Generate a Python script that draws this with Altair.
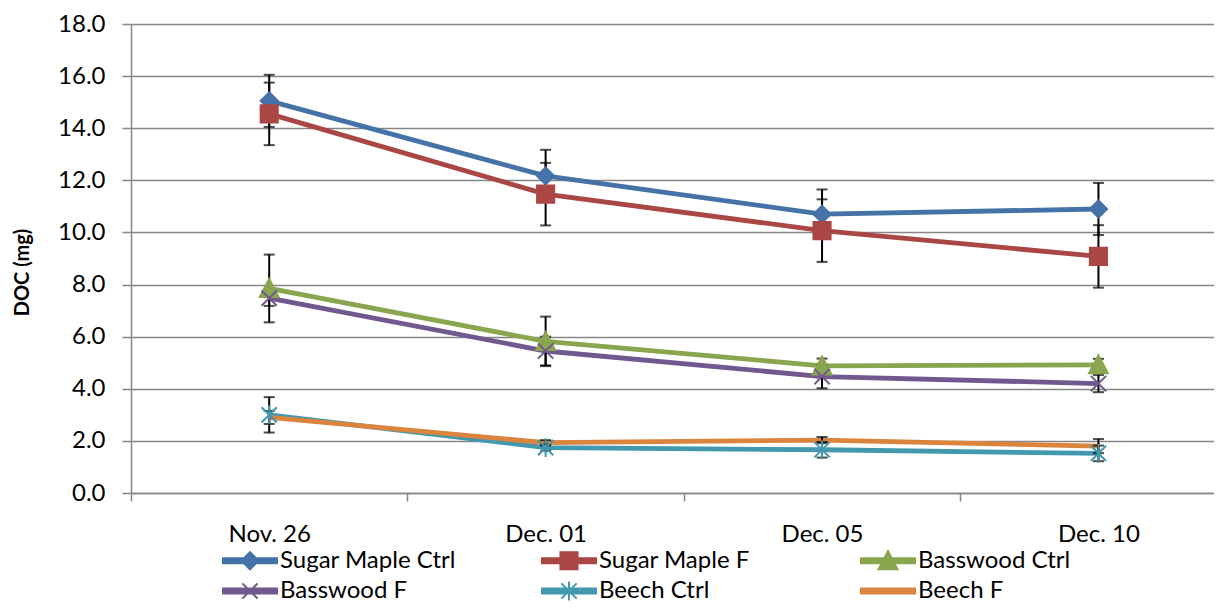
import altair as alt
import pandas as pd

# ---------------- data ----------------
dates = ["Nov. 26", "Dec. 01", "Dec. 05", "Dec. 10"]
series = ["Sugar Maple Ctrl", "Sugar Maple F", "Basswood Ctrl",
          "Basswood F", "Beech Ctrl", "Beech F"]
colors = ["#4572A7", "#AA4643", "#89A54E", "#71588F", "#4198AF", "#DB843D"]

sugar_maple_ctrl = [15.05, 12.17, 10.70, 10.90]
sugar_maple_ctrl_err = [1.00, 1.00, 0.95, 1.00]
sugar_maple_f = [14.55, 11.47, 10.07, 9.08]
sugar_maple_f_err = [1.20, 1.20, 1.20, 1.20]
basswood_ctrl = [7.85, 5.82, 4.88, 4.92]
basswood_ctrl_err = [1.30, 0.95, 0.28, 0.23]
basswood_f = [7.48, 5.45, 4.47, 4.20]
basswood_f_err = [0.30, 0.55, 0.45, 0.33]
beech_ctrl = [3.00, 1.74, 1.66, 1.52]
beech_ctrl_err = [0.68, 0.12, 0.30, 0.30]
beech_f = [2.90, 1.93, 2.03, 1.80]
beech_f_err = [0.25, 0.10, 0.12, 0.27]

y_ticks = [0, 2, 4, 6, 8, 10, 12, 14, 16, 18]

values = [sugar_maple_ctrl, sugar_maple_f, basswood_ctrl,
          basswood_f, beech_ctrl, beech_f]
errors = [sugar_maple_ctrl_err, sugar_maple_f_err, basswood_ctrl_err,
          basswood_f_err, beech_ctrl_err, beech_f_err]

rows = []
for s, vals, errs in zip(series, values, errors):
    for i, (v, e) in enumerate(zip(vals, errs)):
        rows.append({"series": s, "xi": i, "date": dates[i],
                     "value": v, "lo": v - e, "hi": v + e})
df = pd.DataFrame(rows)

# ---------------- marker shapes ----------------
marker_paths = [
    "M0,-0.95L0.95,0L0,0.95L-0.95,0Z",                      # diamond
    "M-0.95,-0.95H0.95V0.95H-0.95Z",                        # square
    "M0,-1.05L1.05,0.95H-1.05Z",                            # triangle
    "M-0.85,-0.85L0.85,0.85M-0.85,0.85L0.85,-0.85",         # x
    "M-0.85,-0.85L0.85,0.85M-0.85,0.85L0.85,-0.85M0,-1.05L0,1.05",  # star
    "M0,0",                                                 # none
]
line_path = "M-3,-0.27H3V0.27H-3Z"
legend_paths = [line_path + p for p in marker_paths]

FONT = "Lato"
GRID = "#868686"
FS = 24

label_expr = "[" + ",".join("'%s'" % d for d in dates) + "][round(datum.value + 0.5)]"

x_enc = alt.X(
    "xi:Q",
    scale=alt.Scale(domain=[-0.5, 3.418], nice=False, zero=False),
    axis=alt.Axis(
        values=[-0.5, 0.5, 1.5, 2.5], labelExpr=label_expr,
        labelOffset=138.2, labelFlush=False, labelOverlap=False,
        labelFont=FONT, labelFontSize=FS, labelColor="black",
        labelPadding=21, tickSize=8, tickColor=GRID, tickWidth=1.5,
        domainColor=GRID, domainWidth=1.5, grid=False, title=None,
    ),
)

y_axis = alt.Axis(
    values=y_ticks, format=".1f", labelFont=FONT, labelFontSize=FS,
    labelColor="black", labelPadding=17, tickSize=9, tickColor=GRID,
    tickWidth=1.5, domainColor=GRID, domainWidth=1.5, gridColor=GRID,
    gridWidth=1.3, title="DOC (mg)", titleFont=FONT, titleFontSize=20,
    titleFontWeight="bold", titleColor="black", titleAngle=270,
    titleX=-109, titleY=248, titleAlign="center", titleBaseline="middle",
)
y_scale = alt.Scale(domain=[0, 18], nice=False, zero=True)


def color_scale():
    return alt.Scale(domain=series, range=colors)


base = alt.Chart(df)

lines = base.mark_line(strokeWidth=4.8).encode(
    x=x_enc,
    y=alt.Y("value:Q", scale=y_scale, axis=y_axis),
    color=alt.Color("series:N", scale=color_scale(), legend=None,
                    sort=series),
)

errbars = base.mark_errorbar(ticks=True, size=11, thickness=2,
                             color="black").encode(
    x=x_enc,
    y=alt.Y("lo:Q", scale=y_scale, axis=y_axis),
    y2="hi:Q",
)

points = base.mark_point(filled=False, strokeWidth=2, size=324,
                         opacity=1).encode(
    x=x_enc,
    y=alt.Y("value:Q", scale=y_scale, axis=y_axis),
    color=alt.Color("series:N", scale=color_scale(), legend=None),
    fill=alt.Fill("series:N", scale=color_scale(), legend=None),
    shape=alt.Shape("series:N",
                    scale=alt.Scale(domain=series, range=marker_paths),
                    legend=None),
)

leg = alt.Legend(
    title=None, orient="none", legendX=107, legendY=524, columns=3,
    direction="horizontal", gridAlign="all", columnPadding=82,
    rowPadding=3, padding=0, symbolSize=324, symbolStrokeWidth=2,
    labelOffset=18, labelFont=FONT, labelFontSize=FS, labelColor="black",
    symbolLimit=0, labelLimit=400,
)

legend_layer = base.transform_filter("false").mark_point(
    filled=False, strokeWidth=2, opacity=1).encode(
    x=x_enc,
    y=alt.Y("value:Q", scale=y_scale, axis=y_axis),
    color=alt.Color("series:N", scale=color_scale(), legend=leg),
    fill=alt.Fill("series:N", scale=color_scale(), legend=leg),
    shape=alt.Shape("series:N",
                    scale=alt.Scale(domain=series, range=legend_paths),
                    legend=leg),
)

chart = alt.layer(lines, errbars, points, legend_layer).resolve_scale(
    color="independent", fill="independent", shape="independent"
).properties(
    width=1083, height=469,
    autosize=alt.AutoSizeParams(type="none"),
    padding={"left": 123, "top": 16, "right": 0, "bottom": 109},
    background="white",
).configure_view(stroke=None).configure(font=FONT)

chart.save("out.html", embed_options={"renderer": "svg", "actions": False})
